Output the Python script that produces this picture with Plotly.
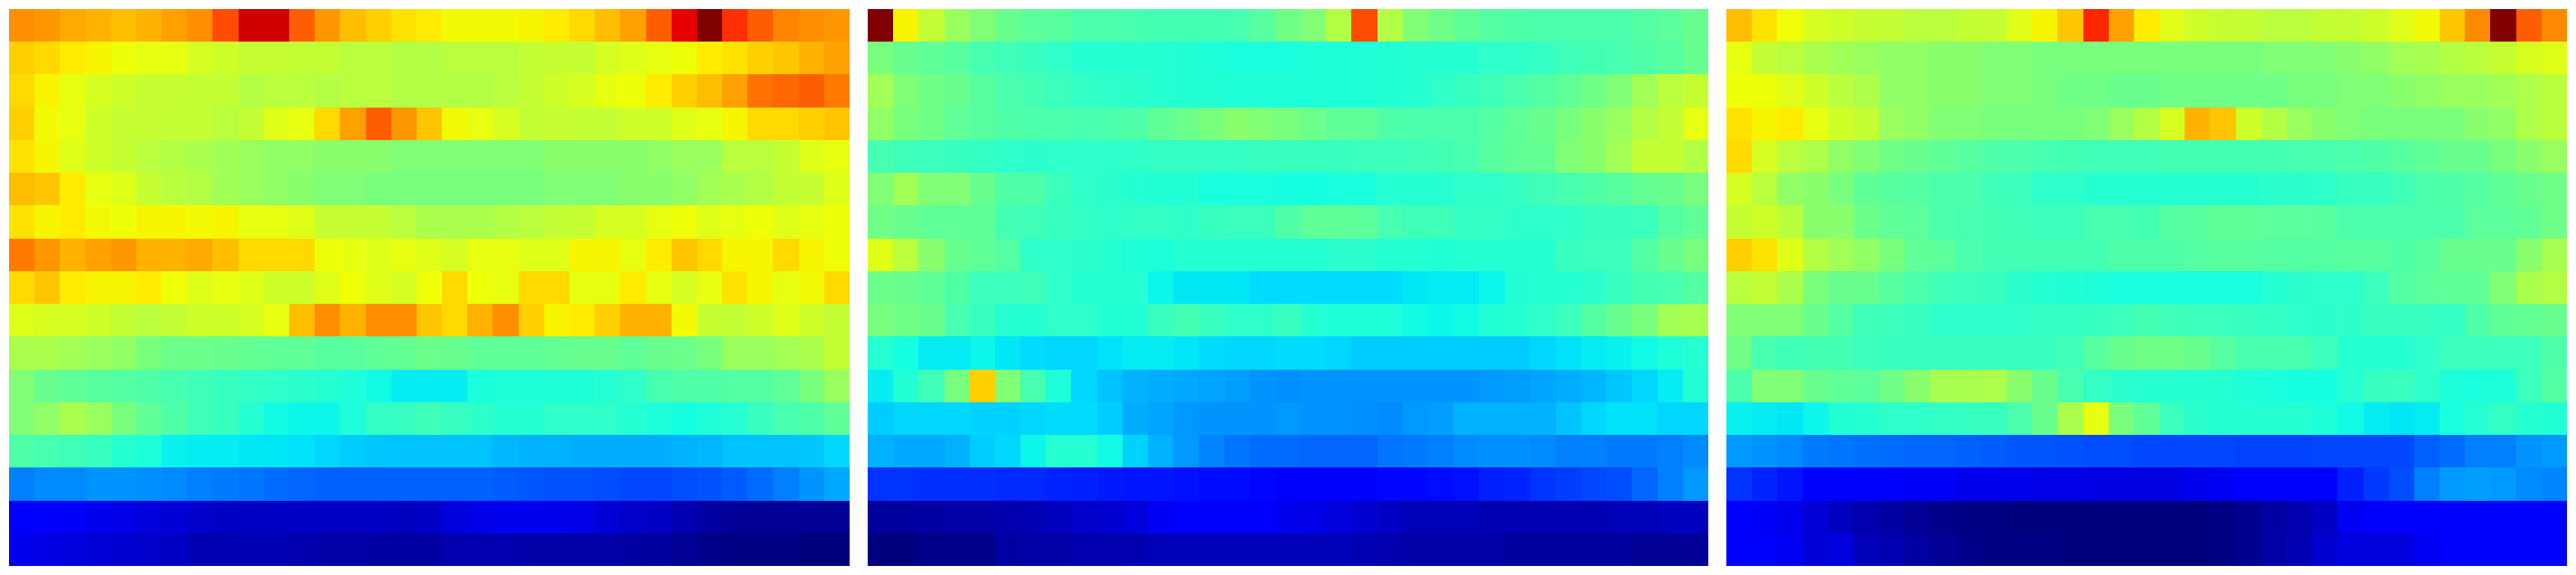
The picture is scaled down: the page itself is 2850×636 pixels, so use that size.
import plotly.graph_objects as go

left_panel = [
[76,75,73,72,71,72,74,76,83,93,93,81,75,71,69,67,66,64.5,64.5,64.5,65,66,68,71,74,81,91,100,86,81,77,76,75],
[69,68,66,65,64,63,63,61,60,59,59,58,58,57,57,56,56,57,57,57,58,59,59,61,62,63,64,66,67,69,70,72,74],
[68,65,63,61,60,59,59,58,58,56,57,57,56,57,57,56,56,56,56,57,59,60,61,63,64,66,69,71,74,79,80,81,78],
[69,64.5,63,60,59,59,58,58,57,58,62,63,68,74,81,75,70,64.5,63,61,58,59,58,58,60,60,62,63,65,68,68,69,70],
[67,65,62,60,59,57,56,55,54,53,52,52,51,51,51,50,50,50,50,50,50,51,51,51,51,52,53,53,57,57,59,62,63],
[71,70,66,63,62,59,57,56,54,53,52,51,50,50,49,49,49,49,49,49,49,50,50,50,51,51,52,54,55,56,58,59,62],
[67,65,66,64.5,64,65,65,64.5,65,63,63,62,59,59,59,57,55,55,55,56,57,58,59,61,61,63,64,62,63,64,62,63,64],
[78,75,72,74,75,72,72,73,71,68,68,68,64,63,62,63,62,61,63,63,62,62,65,65,63,66,70,68,65,65,68,65,64],
[68,70,66,65,65,66,64,62,63,62,60,60,62,64,62,61,64,68,64,63,68,68,63,63,66,63,61,63,67,65,63,64.5,68],
[62,61,61,60,58,57,58,60,60,61,63,71,76,72,76,76,70,68,72,76,69,65,66,69,72,72,64.5,59,58,60,62,60,58],
[55,55,54,53,52,49,47.5,47.5,47,46.5,46,46,45,45,46,46.5,47.5,47,46,46,46,46.5,47,47,46,47,47.5,49,53,53,54,55,58],
[50,47,46,45,44.5,44,43,42,41,40.5,40,39.5,39,38,36.5,35,35,35,37.5,38,38,38,38,39,40,43,44,44,44.5,44.5,46,49,53],
[50,52,55,53,49,46,44,42,41,39,36.5,36,36,38,40.5,41,42,41,40,39,39,40,40,40,39,38,37,38,39,41,43,44,46],
[44,43,42,41,39,38,35.5,35,35,34.5,34.5,34,33,32,31.5,31,31,31,31,30.5,30,30,29.5,29.5,29.5,29.5,30,30.5,31,31,31,31.5,33],
[25,26,26,27,27,26.5,26,25,24.5,24,23,22.5,22,22,22,22,22,22,22,21.5,21,20.5,20.5,20,19.5,19.5,20,20.5,21.5,23,25,27,29],
[11,11,10.5,9.5,9,8,7.5,6.5,6,6,6,6,6,6,6,5.5,6,8,9,9.5,9.5,9.5,9,7.5,6.5,6,4.5,3,2,2,2,2,2],
[9.5,8.5,8,7.5,7,6.5,6,4.5,4.5,4.5,4.5,4,3.5,3.5,3,3,3,4,4,4,3.5,3.5,3.5,3.5,3,2.5,2,1,0.5,0.5,0.5,0,0],
]

middle_panel = [
[100,65,58,53,50,47,45.5,45,43.5,43.5,43,42.5,42.5,42.5,43,45,48,50,56,83,56,50,48,46,44.5,44,43.5,43.5,43.5,43.5,44.5,45.5,47],
[49,47,46,45,43,42,41,40,39,39,39,39,38.5,38,37.5,37.5,37.5,38,38,38,38.5,39,39,39,40,40,40.5,42,42.5,43,44,45,47],
[54,50,48,47,45,43.5,42.5,41.5,40.5,40,39.5,39,38.5,38.5,38,38,38,38,38,38,38.5,39,40,41,42,43.5,44.5,46,48,50,54,57,59],
[52,49,48,46,45,44,43.5,43.5,43,43.5,44,46,47.5,49,51,50,49,47.5,46,46,44,43.5,43.5,43.5,44.5,46,47,49,51,53,56,58,63],
[43,42,41.5,41,40.5,40,39.5,40,40,40,40,40.5,40.5,40.5,40.5,41,41,41,41,41.5,41.5,42,42.5,43,45,46,46.5,50,51,54,58,58.5,56],
[50,54,50,50,47,44,44,41.5,40,39.5,39,38.5,38.5,37.5,37.5,37.5,37,37,37.5,37.5,39,39,39,40,40,41,42,43,44,45,46.5,47,49],
[48,47,46,46,46,42.5,42,41,40.5,40,40.5,40.5,40,41,41.5,41.5,44,46,46,45.5,43,42,42,40.5,40.5,40,40,40,41,41,41.5,44.5,46],
[62,57,51,47,46,44.5,40,40,39.5,39,38,38,39,39,39,39,39,39,39.5,39.5,39,39,38.5,39,39,39,39,41,41.5,41.5,44.5,47,49],
[47.5,47,46,44,41.5,41.5,42,40,39,39,39,36,34.5,34.5,34.5,33.5,33.5,33.5,33.5,33.5,33.5,34.5,35,35,36,38.5,39,39,39.5,41,42.5,43,44.5],
[49,48,47,43,41,39,39,40,40,38.5,38.5,41,42.5,41,40,40,41,39,38,38,38,36.5,36,36.5,38.5,39,40,41.5,44.5,47,49,54,54.5],
[39,37,35,35,36,34.5,33.5,33,33,34,35,35,34.5,33.5,33,33,33.5,33.5,33,32,32,32,32,32,32,32,33,34,35,35.5,36.5,38,39],
[35,38.5,42,49,69,50,43,38,33,31,30,29.5,29,28.5,28,27,26.5,27,27,27,27,27,27,27,27.5,28,28.5,29.5,30.5,31.5,33,35,38.5],
[32,33,33,33,32.5,32.5,33,33.5,33.5,32,29.5,28.5,27.5,27,27,27,27.5,27,27,26.5,26,27.5,28,30,30,30,30,31,33,34,34,33,33],
[30,29,29,30,32,33,36,39,39,36.5,32.5,30,27.5,25.5,24,23,23,22.5,22.5,22.5,24,24.5,25,26,26.5,26.5,26,25,25,24.5,24.5,25,26],
[17.5,17.5,17,17,17,16.5,16.5,16,15.5,15,14.5,14.5,14,13.5,13.5,13,12.5,12.5,12.5,12.5,13,13,13.5,14,15.5,16,17.5,18.5,19.5,20,22.5,25,27.5],
[2.5,2.5,3,3.5,3.5,4,4.5,5.5,6.5,7,8,10,11.5,11.5,11.5,11,9.5,9,8,7,6,5,5,5,4.5,4.5,4.5,4.5,4.5,5,5,5.5,5.5],
[0,0,1,1,1,3,3.5,3.5,4,4,4.5,5,5,5,5,5,5,5,5,4.5,4,3.5,3.5,3.5,3.5,2.5,2.5,2.5,2.5,2.5,2,2,2],
]

right_panel = [
[71,67,64,61,60,59,58,57,57,58,59,62,65,70,87,74,66,62,60,59,58,57,57,58,59,60,62,64.5,70,76.5,100,81,76.5],
[63,58,57,55,54,53,52,52,51,51,50,50,49,49,49,49,49,49,49,49,49,50,50,50,51,52,54,54.5,56,57,59,61,62],
[64,64,62,60,57,55.5,52,52,51,51,50,50,49,48,48,47,47,48,48,48,48,48,49,49,50,50,51,52,53,53,54,55.5,57],
[67,65,66,63,60,58,53,52,50,50,49,49,49,49,50,53,56,61,72,70,60,56,53,51,50,49,49,49,49,51,52,55.5,57],
[68,61,57,55.5,52,50,48,47,46,45,44,43.5,43,42.5,42,42,42,42.5,42.5,42.5,42.5,42.5,43,43,43.5,44,45,46,47,47,49,51,53],
[61,57,52,51,49,46,45,44.5,43.5,43.5,42,41.5,40,40,39,39,39,39,39,39,39,39.5,39.5,40,41,41,42,43.5,44,44.5,46,47,48],
[59,60,57,51,51,47.5,46,45.5,43.5,43,42.5,42,41.5,41.5,43,43,42.5,44.5,45,46,46,45.5,45.5,45,43.5,43.5,43.5,43.5,43.5,45.5,45.5,46,48],
[69,67,62,56,54,52,49,46,45.5,43.5,42.5,42.5,42.5,42.5,42.5,44,44,44,44.5,45,45,44.5,44.5,44.5,45,45,44,45,47,47,47,51,54.5],
[57,58,55,49,47,47,45,43.5,42,41.5,41,39.5,39,38.5,38,37.5,37.5,37.5,37.5,37.5,37.5,39,39.5,40,40,41.5,44.5,45.5,46,46,50,55,56],
[50,50,50,47,44.5,42,41.5,41,40,40,40,40,40.5,40.5,41,41.5,42.5,42,41.5,41.5,41,40.5,40,39.5,40,41,41,41,40.5,44,46,46.5,47],
[48,43,42,42.5,42.5,41.5,41,41,41,41,41,41,41,42,45,47,48,48,47,45,43,43,43,41.5,39,39,39,40,41.5,41.5,41.5,41.5,44],
[43.5,50,50,47,46,45.5,48,51,54.5,55,55.5,51,47,43,40.5,39.5,39,39,39,39,38,37.5,37,37,39,41,41.5,40,38,37.5,38,41.5,44.5],
[35.5,35,34.5,36,38.5,39,40,40,40.5,41,41,43.5,47,55,63,49,46,41.5,39.5,39,39,39,39,38,36.5,35,34.5,35,37.5,39,40.5,39,38.5],
[27.5,27,26,24.5,24,23.5,23,22.5,22.5,22,21.5,21,21,20.5,20,20,19.5,19.5,19.5,19.5,19,19,19,19.5,19.5,19.5,19.5,22,23,25,25,27,27.5],
[17.5,16,14.5,12,11.5,11.5,11.5,10.5,10.5,9.5,9.5,9.5,9,9,8.5,8.5,8.5,8.5,9.5,10,11,11.5,11.5,11,15.5,18,20,25,27.5,28,27.5,26,25.5],
[11.5,10.5,9.5,7.5,5.5,4,3,2,1,0.5,0.5,0,0,0,0,0,0,0,0,0.5,1.5,3,4,6,10,11.5,11.5,11.5,11.5,11.5,11,11,11],
[11,12,10,7.5,8,5,4.5,3,2,1,0.5,0.5,0.5,0,0,0,0,0,0,0.5,1.5,3.5,4.5,7,8,8,8,10,11,11,11.5,12,12],
]

jet_scale = [
    [0.0, "rgb(0,0,127)"], [0.11, "rgb(0,0,255)"], [0.125, "rgb(0,0,255)"],
    [0.34, "rgb(0,219,255)"], [0.35, "rgb(0,230,247)"], [0.375, "rgb(21,255,226)"],
    [0.64, "rgb(239,255,8)"], [0.65, "rgb(247,246,0)"], [0.66, "rgb(255,236,0)"],
    [0.89, "rgb(255,19,0)"], [0.91, "rgb(232,0,0)"], [1.0, "rgb(128,0,0)"],
]

# Readings in the cyan-to-lime band came out slightly low against the scale.
band_low, band_high, band_correction = 31, 58, 0.6


def calibrated(rows):
    return [[v + band_correction if band_low <= v <= band_high else v for v in r] for r in rows]


W, H = 2850, 636
panels = [left_panel, middle_panel, right_panel]
spans = [(10, 940), (960, 1890), (1910, 2840)]

fig = go.Figure()
layout = dict(width=W, height=H, margin=dict(l=0, r=0, t=0, b=0),
              paper_bgcolor="white", plot_bgcolor="white", showlegend=False)
for i, (z, (a, b)) in enumerate(zip(panels, spans)):
    suffix = "" if i == 0 else str(i + 1)
    fig.add_trace(go.Heatmap(z=calibrated(z), zmin=0, zmax=100, colorscale=jet_scale, showscale=False,
                             xaxis="x" + suffix, yaxis="y" + suffix))
    layout["xaxis" + suffix] = dict(domain=[a / W, b / W], visible=False, showgrid=False,
                                    zeroline=False, anchor="y" + suffix)
    layout["yaxis" + suffix] = dict(domain=[10 / H, 626 / H], visible=False, showgrid=False,
                                    zeroline=False, autorange="reversed", anchor="x" + suffix)
fig.update_layout(**layout)
fig.write_html("out.html", config={"displayModeBar": False, "responsive": False},
               post_script="document.body.style.margin='0';document.body.style.overflow='hidden';")
